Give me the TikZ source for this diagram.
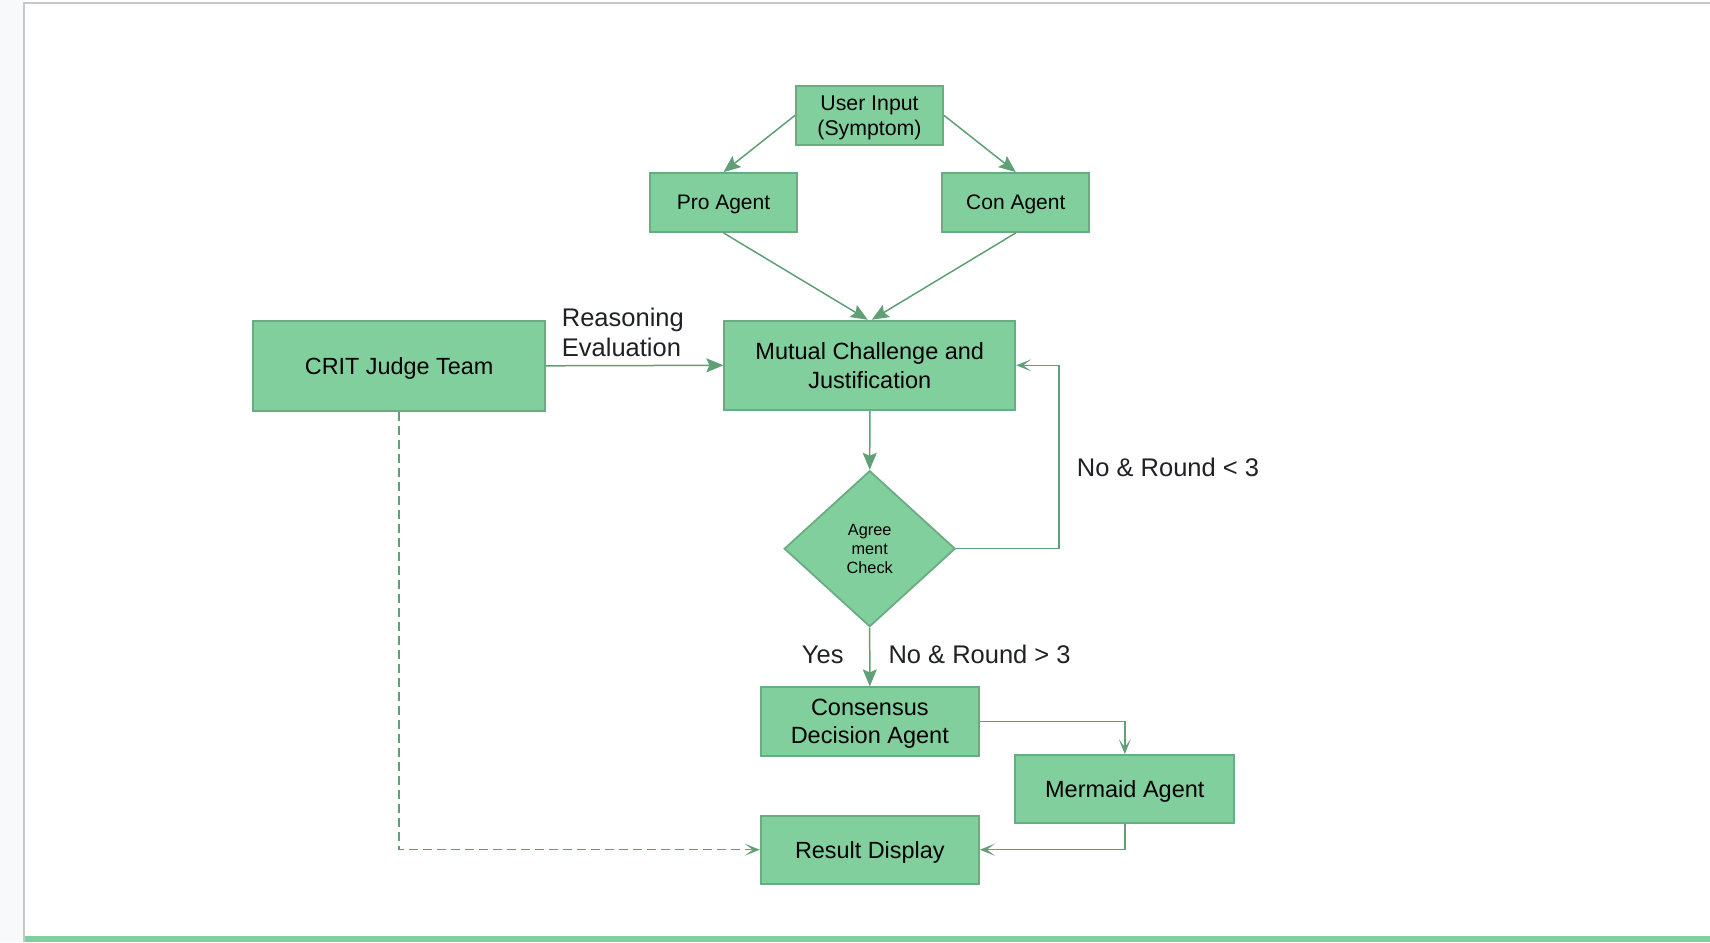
\documentclass[tikz,border=0pt]{standalone}
\usepackage{fontspec}
\setmainfont{Liberation Sans}
\usetikzlibrary{shapes.geometric,arrows.meta}
\definecolor{boxfill}{RGB}{130,207,158}
\definecolor{boxdraw}{RGB}{106,172,130}
\definecolor{linec}{RGB}{96,160,118}
\definecolor{labelc}{RGB}{32,33,36}
\definecolor{leftbg}{RGB}{248,249,250}
\definecolor{framec}{RGB}{200,200,200}
\begin{document}
\begin{tikzpicture}[x=1pt,y=-1pt,
  box/.style={draw=boxdraw, fill=boxfill, line width=1.8pt, inner sep=0pt, align=center, text=black, text depth=-3pt},
  conn/.style={draw=linec, line width=1.5pt, -{Stealth[length=17pt,width=14pt,inset=3pt]}},
  openarr/.style={draw=linec, line width=1.5pt, -{Stealth[length=15pt,width=12pt,inset=8pt]}},
  dashline/.style={dash pattern=on 9pt off 5pt},
  lbl/.style={text=labelc, inner sep=0pt, font=\fontsize{25.5}{30.7}\selectfont, align=left}
]
\useasboundingbox (0,0) rectangle (1710,942);
\fill[white] (0,0) rectangle (1710,942);
\fill[leftbg] (0,0) rectangle (23.3,942);
\fill[framec] (23.3,2) rectangle (25.3,942);
\fill[framec] (23.3,2) rectangle (1710,4);
\fill[boxfill] (25.3,936) rectangle (1710,942);

% nodes
\node[box, minimum width=147pt, minimum height=59pt, font=\fontsize{21.3}{25.2}\selectfont] (user) at (869.5,115.3) {User Input\\(Symptom)};
\node[box, minimum width=147pt, minimum height=59pt, font=\fontsize{21}{25}\selectfont] (pro) at (723.5,202.5) {Pro Agent};
\node[box, minimum width=147pt, minimum height=59pt, font=\fontsize{21}{25}\selectfont] (con) at (1015.8,202.5) {Con Agent};
\node[box, minimum width=291pt, minimum height=89.3pt, font=\fontsize{23.5}{28.4}\selectfont] (mutual) at (869.8,365.3) {Mutual Challenge and\\Justification};
\node[box, minimum width=291.7pt, minimum height=89.7pt, font=\fontsize{23.4}{28}\selectfont] (crit) at (399.2,365.8) {CRIT Judge Team};
\node[box, diamond, minimum width=171pt, minimum height=156pt, font=\fontsize{16.3}{19}\selectfont] (check) at (869.7,548.7) {Agree\\ment\\Check};
\node[box, minimum width=218.3pt, minimum height=68.4pt, font=\fontsize{23.5}{28.2}\selectfont] (consensus) at (869.8,721.5) {Consensus\\Decision Agent};
\node[box, minimum width=219pt, minimum height=68.3pt, font=\fontsize{23.5}{28}\selectfont] (mermaid) at (1124.8,789.2) {Mermaid Agent};
\node[box, minimum width=218.3pt, minimum height=68pt, font=\fontsize{23.4}{28}\selectfont] (result) at (869.8,849.7) {Result Display};

\coordinate (loopx) at (1059,0);

% connectors
\draw[conn] (user.west) -- (pro.north);
\draw[conn] (user.east) -- (con.north);
\draw[conn] (pro.south) -- ([xshift=-2pt]mutual.north);
\draw[conn] (con.south) -- ([xshift=2pt]mutual.north);
\draw[conn] (crit.east) -- (mutual.west);
\draw[conn] (mutual.south) -- (check.north);
\draw[openarr] (check.east) -| (loopx |- mutual.east) -- (mutual.east);
\draw[conn] (check.south) -- (consensus.north);
\draw[openarr] (consensus.east) -| (mermaid.north);
\draw[openarr] (mermaid.south) |- (result.east);
\draw[openarr, dashline] (crit.south) |- (result.west);

% labels
\node[lbl, anchor=base west] (reason) at (561.7,356.7) {Reasoning\\Evaluation};
\node[lbl, anchor=base west] (yes) at (801.7,663.3) {Yes};
\node[lbl, anchor=base west] (nogt) at (888.3,663.3) {No \& Round > 3};
\node[lbl, anchor=base west] (nolt) at (1076.7,476) {No \& Round < 3};
\end{tikzpicture}
\end{document}
